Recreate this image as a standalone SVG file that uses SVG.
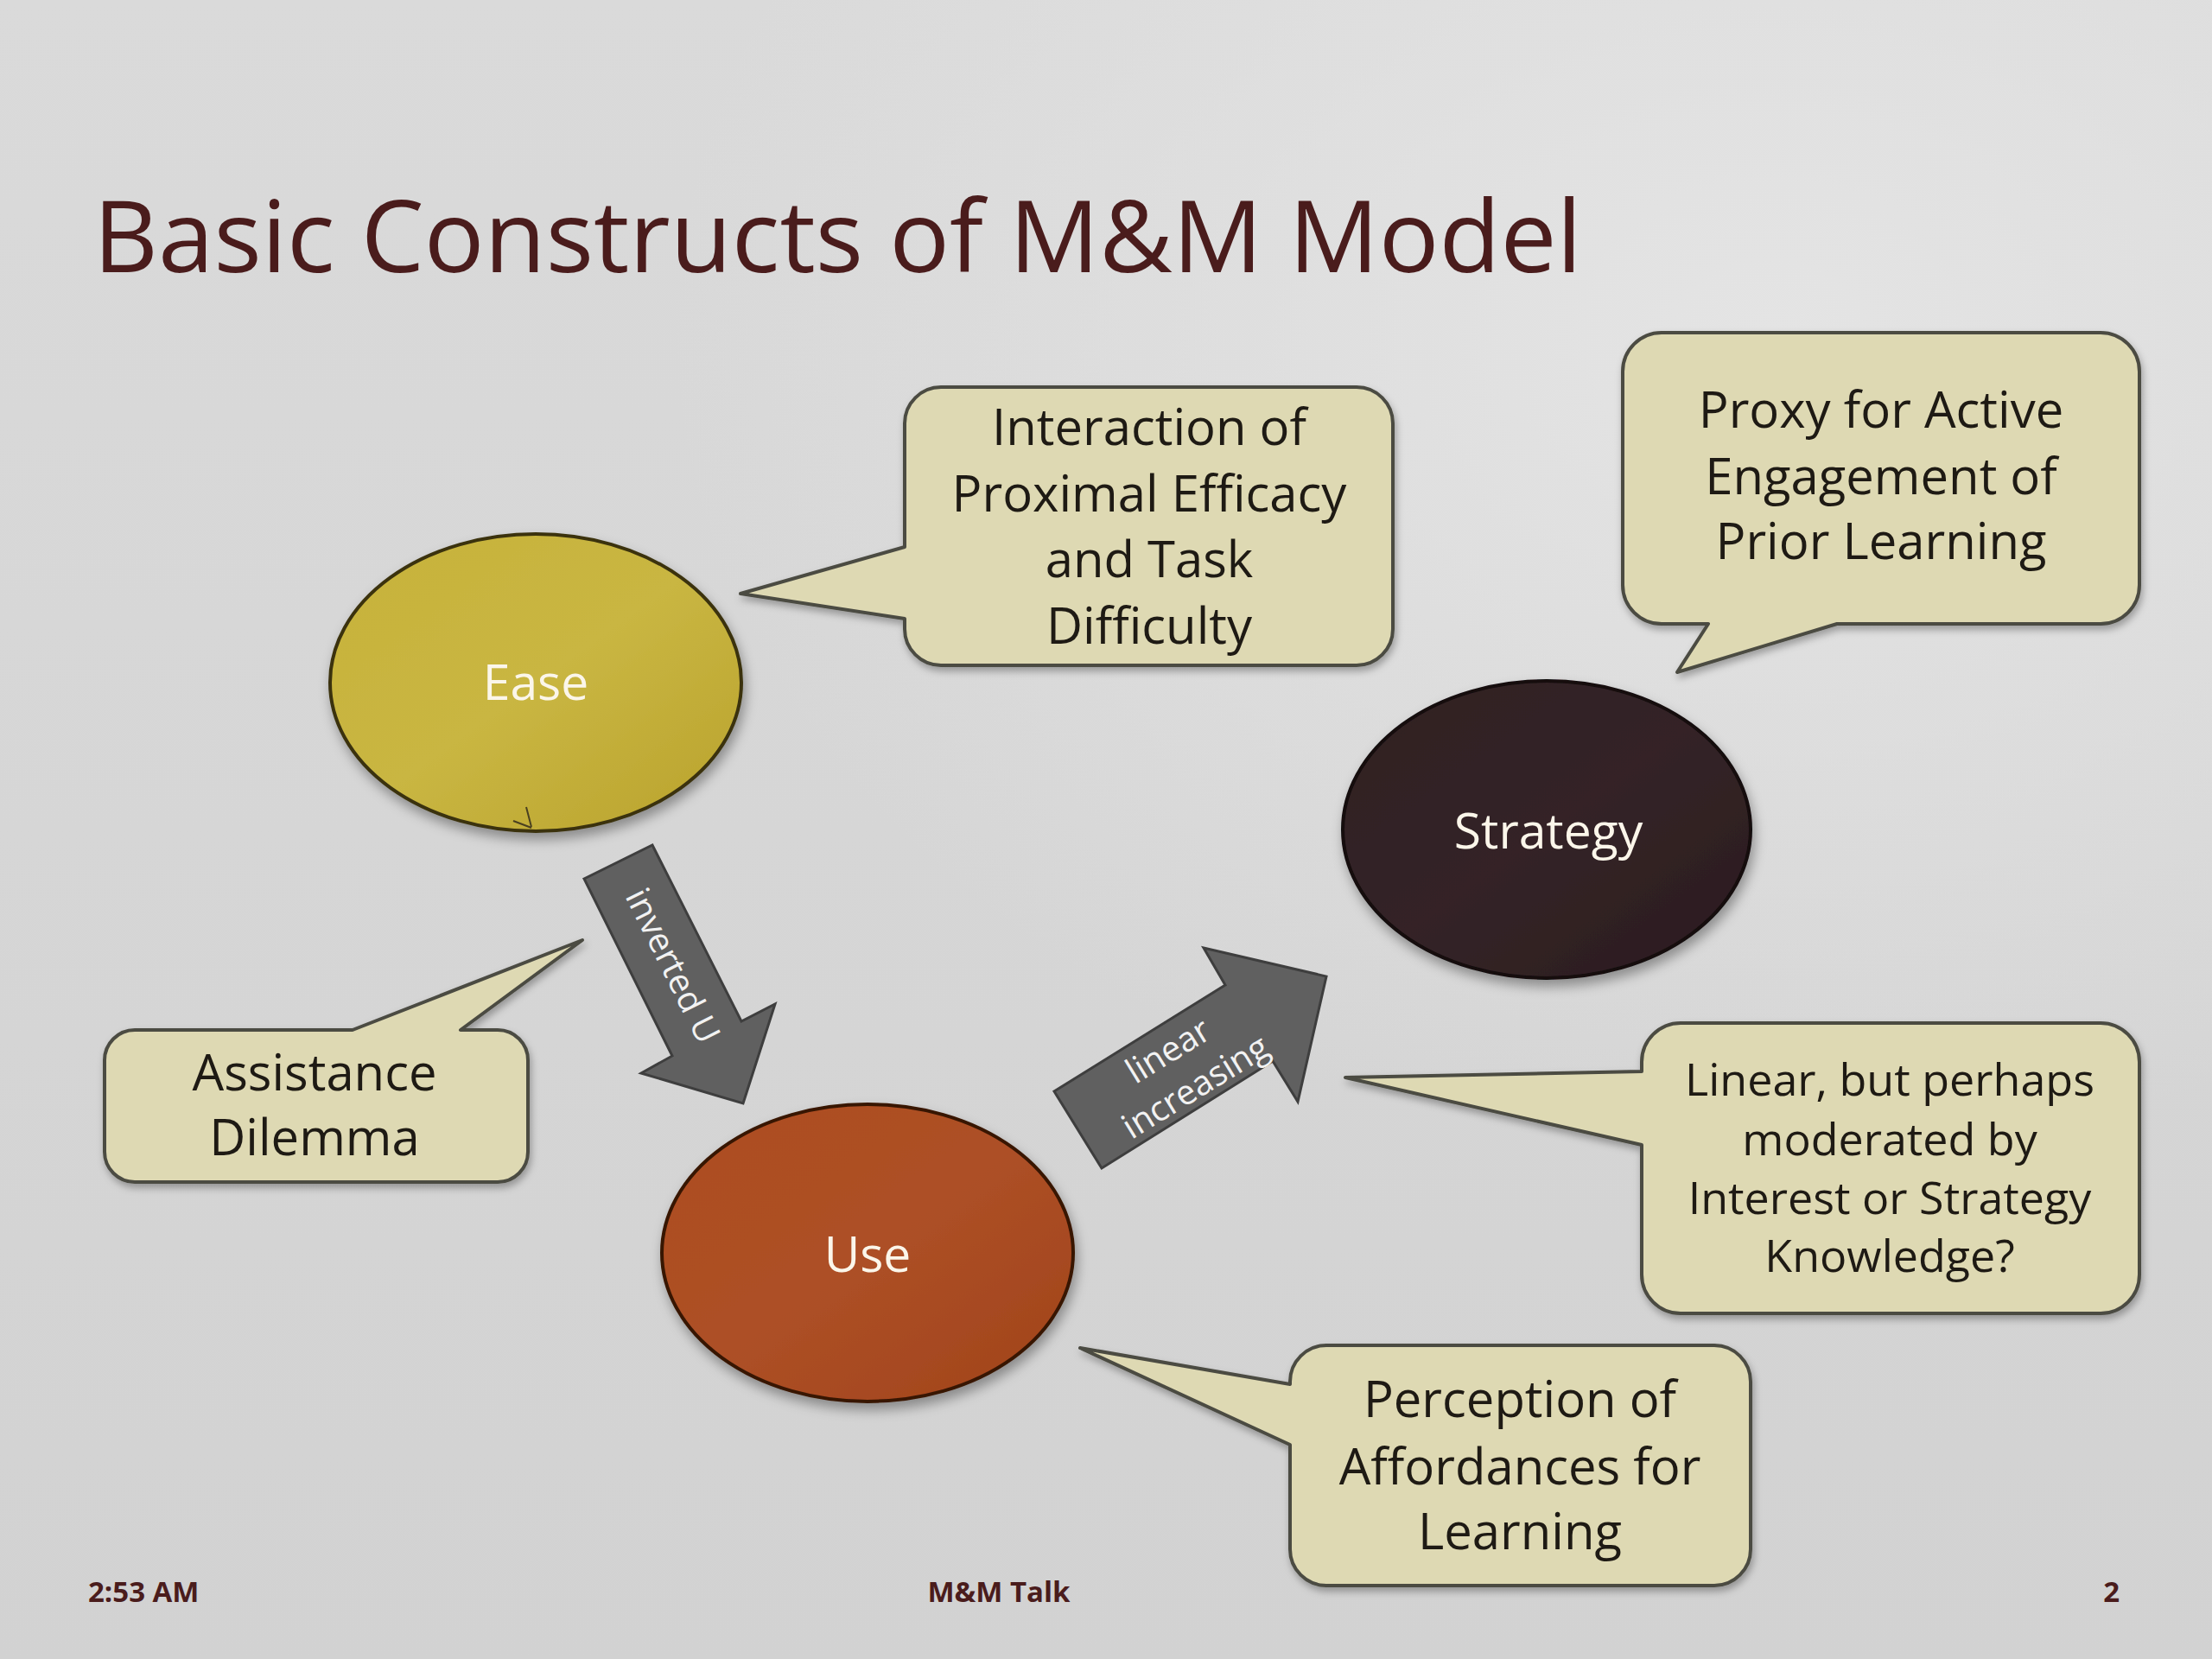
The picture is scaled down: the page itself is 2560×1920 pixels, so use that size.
<svg xmlns="http://www.w3.org/2000/svg" width="2560" height="1920" viewBox="0 0 2560 1920">
<defs>
<style>
.title{font-family:"Open Sans","Noto Sans",sans-serif;font-size:116px;fill:#4a1c1c}
.call{fill:#ded9b3;stroke:#4b4b42;stroke-width:4;stroke-linejoin:round;filter:url(#sh)}
.ct{font-family:"Open Sans","Noto Sans",sans-serif;font-size:58px;fill:#1e1a14;text-anchor:middle}
.ct4{font-family:"Open Sans","Noto Sans",sans-serif;font-size:52px;fill:#1e1a14;text-anchor:middle}
.nt{font-family:"Open Sans","Noto Sans",sans-serif;font-size:57px;fill:#fbf6ea;text-anchor:middle}
.arrow{fill:#606060;stroke:#3e3e3e;stroke-width:3;stroke-linejoin:miter}
.at{font-family:"Open Sans","Noto Sans",sans-serif;font-size:40px;fill:#f2f2f2;text-anchor:middle}
.ft{font-family:"Open Sans","Noto Sans",sans-serif;font-size:33px;font-weight:bold;fill:#4a1c1c}
</style>
<linearGradient id="bg" x1="0" y1="0" x2="0" y2="1">
<stop offset="0" stop-color="#dadada"/>
<stop offset="1" stop-color="#d2d2d2"/>
</linearGradient>
<radialGradient id="glow" cx="0.8" cy="0.2" r="0.5">
<stop offset="0" stop-color="#e4e4e4"/>
<stop offset="1" stop-color="#e4e4e4" stop-opacity="0"/>
</radialGradient>
<linearGradient id="gEase" x1="0" y1="0" x2="1" y2="1">
<stop offset="0" stop-color="#c7b23a"/>
<stop offset="0.5" stop-color="#c9b642"/>
<stop offset="1" stop-color="#b9a22c"/>
</linearGradient>
<linearGradient id="gUse" x1="0" y1="0" x2="1" y2="1">
<stop offset="0" stop-color="#ad4d1f"/>
<stop offset="0.5" stop-color="#ad5026"/>
<stop offset="1" stop-color="#a0421a"/>
</linearGradient>
<linearGradient id="gStr" x1="0" y1="0" x2="1" y2="1">
<stop offset="0" stop-color="#2e1f22"/>
<stop offset="0.5" stop-color="#342427"/>
<stop offset="1" stop-color="#2a1b1e"/>
</linearGradient>
<filter id="sh" x="-20%" y="-20%" width="140%" height="150%">
<feDropShadow dx="2" dy="5" stdDeviation="4" flood-color="#000" flood-opacity="0.3"/>
</filter>
<filter id="esh" x="-20%" y="-20%" width="140%" height="150%">
<feDropShadow dx="3" dy="8" stdDeviation="7" flood-color="#000" flood-opacity="0.35"/>
</filter>
</defs>

<rect x="0" y="0" width="2560" height="1920" fill="url(#bg)"/>
<rect x="0" y="0" width="2560" height="1920" fill="url(#glow)"/>

<g id="title">
<text class="title" x="108" y="315">Basic Constructs of M&amp;M Model</text>
</g>

<g id="connectors">
<g id="arrow-inverted-u">
<polygon class="arrow" points="676,1017 755,978 858,1182 897,1162 860,1277 742,1242 778,1222"/>
<text class="at" transform="translate(778 1118) rotate(63.5)" y="13">inverted U</text>
</g>
<g id="arrow-linear-increasing">
<polygon class="arrow" points="1220,1263 1418,1140 1393,1097 1535,1130 1502,1275 1473,1228 1275,1352"/>
<text class="at" transform="translate(1369 1238) rotate(-31.6)"><tspan x="-3" y="-14">linear</tspan><tspan x="2" y="38">increasing</tspan></text>
</g>
</g>

<g id="node-ease">
<ellipse cx="620" cy="790" rx="238" ry="172" fill="url(#gEase)" stroke="#3a3210" stroke-width="4" filter="url(#esh)"/>
<path d="M 609 934 L 615 957 M 594 950 L 615 958" fill="none" stroke="#4a4020" stroke-width="2"/>
<text class="nt" x="620" y="810">Ease</text>
</g>

<g id="node-use">
<ellipse cx="1004" cy="1450" rx="238" ry="172" fill="url(#gUse)" stroke="#381606" stroke-width="4" filter="url(#esh)"/>
<text class="nt" x="1004" y="1472">Use</text>
</g>

<g id="node-strategy">
<ellipse cx="1790" cy="960" rx="236" ry="172" fill="url(#gStr)" stroke="#120a0c" stroke-width="4" filter="url(#esh)"/>
<text class="nt" x="1792" y="982">Strategy</text>
</g>

<g id="callout-interaction">
<path class="call" d="M 1089 448 H 1570 A 42 42 0 0 1 1612 490 V 728 A 42 42 0 0 1 1570 770 H 1089 A 42 42 0 0 1 1047 728 V 716 L 857 687 L 1047 633 V 490 A 42 42 0 0 1 1089 448 Z"/>
<text class="ct" x="1330" y="515">Interaction of</text>
<text class="ct" x="1330" y="592">Proximal Efficacy</text>
<text class="ct" x="1330" y="668">and Task</text>
<text class="ct" x="1330" y="745">Difficulty</text>
</g>

<g id="callout-proxy">
<path class="call" d="M 1923 385 H 2431 A 45 45 0 0 1 2476 430 V 677 A 45 45 0 0 1 2431 722 H 2126 L 1941 778 L 1977 722 H 1923 A 45 45 0 0 1 1878 677 V 430 A 45 45 0 0 1 1923 385 Z"/>
<text class="ct" x="2177" y="495">Proxy for Active</text>
<text class="ct" x="2177" y="572">Engagement of</text>
<text class="ct" x="2177" y="647">Prior Learning</text>
</g>

<g id="callout-assistance">
<path class="call" d="M 156 1192 H 408 L 674 1088 L 533 1192 H 576 A 35 35 0 0 1 611 1227 V 1333 A 35 35 0 0 1 576 1368 H 156 A 35 35 0 0 1 121 1333 V 1227 A 35 35 0 0 1 156 1192 Z"/>
<text class="ct" x="364" y="1262">Assistance</text>
<text class="ct" x="364" y="1337">Dilemma</text>
</g>

<g id="callout-linear">
<path class="call" d="M 1945 1184 H 2431 A 45 45 0 0 1 2476 1229 V 1475 A 45 45 0 0 1 2431 1520 H 1945 A 45 45 0 0 1 1900 1475 V 1325 L 1557 1247 L 1900 1240 V 1229 A 45 45 0 0 1 1945 1184 Z"/>
<text class="ct4" x="2187" y="1268">Linear, but perhaps</text>
<text class="ct4" x="2187" y="1337">moderated by</text>
<text class="ct4" x="2187" y="1405">Interest or Strategy</text>
<text class="ct4" x="2187" y="1472">Knowledge?</text>
</g>

<g id="callout-perception">
<path class="call" d="M 1535 1557 H 1984 A 42 42 0 0 1 2026 1599 V 1793 A 42 42 0 0 1 1984 1835 H 1535 A 42 42 0 0 1 1493 1793 V 1672 L 1250 1560 L 1493 1602 V 1599 A 42 42 0 0 1 1535 1557 Z"/>
<text class="ct" x="1759" y="1640">Perception of</text>
<text class="ct" x="1759" y="1718">Affordances for</text>
<text class="ct" x="1759" y="1793">Learning</text>
</g>

<g id="footer">
<text class="ft" x="102" y="1854">2:53 AM</text>
<text class="ft" x="1156" y="1854" text-anchor="middle">M&amp;M Talk</text>
<text class="ft" x="2453" y="1854" text-anchor="end">2</text>
</g>
</svg>
